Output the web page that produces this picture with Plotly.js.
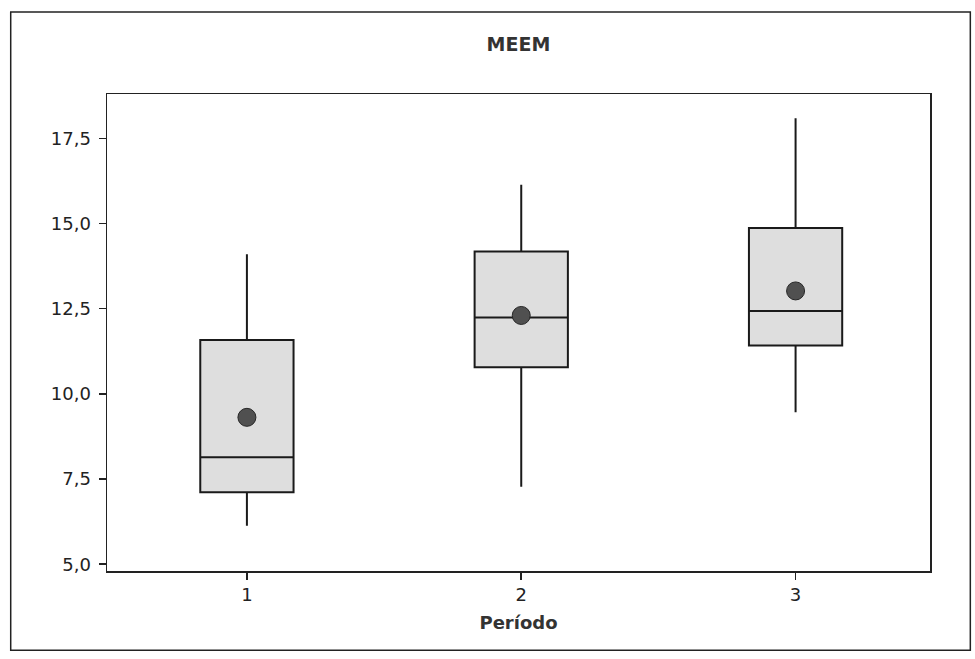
<!DOCTYPE html>
<html>
<head>
<meta charset="utf-8">
<script src="https://cdn.plot.ly/plotly-3.0.1.min.js"></script>
<style>
  html, body { margin: 0; padding: 0; background: #ffffff; }
  #chart { width: 975px; height: 659px; }
</style>
</head>
<body>
<div id="chart"></div>
<script>
// Data
const periods = [1, 2, 3];
const lowerWhisker = [6.13, 7.27, 9.46];
const q1Values = [7.11, 10.78, 11.42];
const medianValues = [8.14, 12.24, 12.43];
const q3Values = [11.58, 14.18, 14.87];
const upperWhisker = [14.10, 16.14, 18.09];
const meanValues = [9.31, 12.30, 13.02];
const yTickValues = [5, 7.5, 10, 12.5, 15, 17.5];
const xTickLabels = ["1", "2", "3"];

const boxTrace = {
  type: 'box',
  x: periods,
  q1: q1Values,
  median: medianValues,
  q3: q3Values,
  lowerfence: lowerWhisker,
  upperfence: upperWhisker,
  width: 0.34,
  whiskerwidth: 0,
  boxpoints: false,
  fillcolor: '#dedede',
  line: { color: '#1a1a1a', width: 2 },
  showlegend: false,
  hoverinfo: 'skip'
};

const meanTrace = {
  type: 'scatter',
  mode: 'markers',
  x: periods,
  y: meanValues,
  marker: { size: 18, color: '#505050', line: { color: '#262626', width: 1 } },
  showlegend: false,
  hoverinfo: 'skip'
};

const fontFamily = 'DejaVu Sans, Verdana, sans-serif';

const layout = {
  width: 975,
  height: 659,
  paper_bgcolor: '#ffffff',
  plot_bgcolor: '#ffffff',
  separators: ',.',
  margin: { l: 107, r: 45, t: 94, b: 88 },
  font: { family: fontFamily, color: '#222222', size: 18 },
  title: {
    text: '<b>MEEM</b>',
    font: { family: fontFamily, size: 19, color: '#333333' },
    x: 0.5, xref: 'paper', xanchor: 'center',
    y: 0.932, yref: 'container', yanchor: 'middle'
  },
  xaxis: {
    range: [0.49, 3.49],
    tickvals: periods,
    ticktext: xTickLabels,
    ticks: 'outside',
    ticklen: 7,
    tickwidth: 1.5,
    tickcolor: '#222222',
    showline: true,
    linecolor: '#222222',
    linewidth: 1.5,
    mirror: true,
    showgrid: false,
    zeroline: false,
    tickfont: { family: fontFamily, size: 18, color: '#222222' },
    title: {
      text: '<b>Período</b>',
      font: { family: fontFamily, size: 18, color: '#333333' },
      standoff: 12
    }
  },
  yaxis: {
    range: [4.8, 18.8],
    tickvals: yTickValues,
    tickformat: '.1f',
    ticks: 'outside',
    ticklen: 7,
    tickwidth: 1.5,
    tickcolor: '#222222',
    ticklabelstandoff: 4,
    showline: true,
    linecolor: '#222222',
    linewidth: 1.5,
    mirror: true,
    showgrid: false,
    zeroline: false,
    tickfont: { family: fontFamily, size: 18, color: '#222222' }
  },
  shapes: [
    {
      type: 'rect', xref: 'paper', yref: 'paper',
      x0: -0.117, x1: 1.049, y0: -0.166, y1: 1.172,
      line: { color: '#222222', width: 1.5 },
      fillcolor: 'rgba(0,0,0,0)',
      layer: 'below'
    }
  ]
};

Plotly.newPlot('chart', [boxTrace, meanTrace], layout, { displayModeBar: false, staticPlot: true });
</script>
</body>
</html>
